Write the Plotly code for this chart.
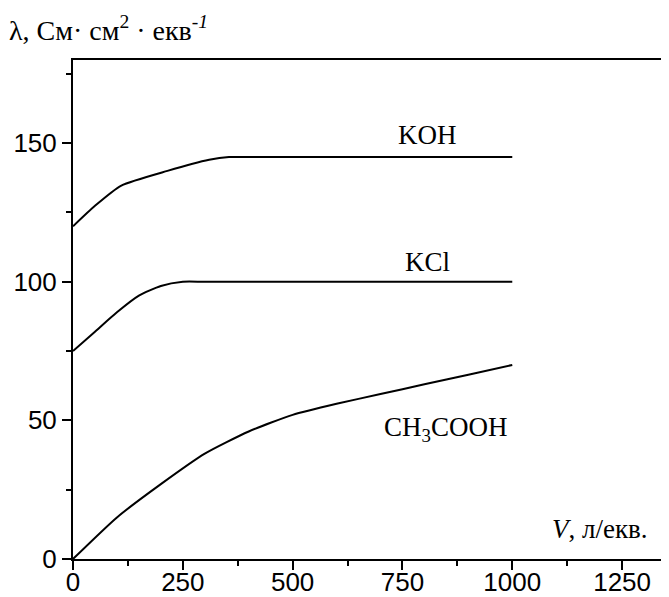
import plotly.graph_objects as go

# Data
koh_x = [0, 50, 110, 215, 310, 355, 400, 600, 800, 1000]
koh_y = [120, 127.4, 134.7, 140, 144, 145, 145, 145, 145, 145]

kcl_x = [0, 50, 100, 150, 200, 250, 300, 600, 800, 1000]
kcl_y = [75, 82, 89, 95, 98.5, 100, 100, 100, 100, 100]

ac_x = [0, 100, 200, 300, 400, 500, 600, 700, 800, 900, 1000]
ac_y = [0, 15, 27, 38, 46, 52, 56, 59.5, 63, 66.5, 70]

x_ticks = [0, 250, 500, 750, 1000, 1250]
y_ticks = [0, 50, 100, 150]

labels = [
    ("KOH", 807, 153),
    ("KCl", 806, 107),
    ("CH<sub>3</sub>COOH", 848, 47),
    ("<i>V</i>, л/екв.", 1200, 11),
]

serif = "Liberation Serif, Times New Roman, serif"
sans = "Liberation Sans, Arial, sans-serif"

fig = go.Figure()
for xs, ys in [(koh_x, koh_y), (kcl_x, kcl_y), (ac_x, ac_y)]:
    fig.add_trace(go.Scatter(x=xs, y=ys, mode="lines", line=dict(color="black", width=2, shape="spline", smoothing=0.6),
                             showlegend=False, hoverinfo="skip"))

for text, x, y in labels:
    fig.add_annotation(x=x, y=y, text=text, showarrow=False, font=dict(family=serif, size=27, color="black"),
                       xanchor="center", yanchor="middle")

fig.add_annotation(xref="paper", yref="paper", x=-0.11, y=1.063, xanchor="left", yanchor="middle",
                   text="λ, См· см<sup>2</sup> · екв<sup><i>-1</i></sup>", showarrow=False,
                   font=dict(family=serif, size=28, color="black"))

fig.update_layout(
    width=669, height=597,
    margin=dict(l=65, r=0, t=52, b=46),
    plot_bgcolor="white", paper_bgcolor="white",
)
fig.update_xaxes(range=[0, 1375], tickvals=x_ticks, ticks="outside", ticklen=9, tickwidth=2, tickcolor="black",
                 showline=True, linecolor="black", linewidth=2, mirror=True, showgrid=False, zeroline=False,
                 tickfont=dict(family=sans, size=26, color="black"), ticklabelstandoff=-10,
                 minor=dict(dtick=125, tick0=0, ticks="outside", ticklen=5, tickwidth=2, tickcolor="black"))
fig.update_yaxes(range=[0, 180], tickvals=y_ticks, ticks="outside", ticklen=9, tickwidth=2, tickcolor="black",
                 showline=True, linecolor="black", linewidth=2, showgrid=False, zeroline=False,
                 tickfont=dict(family=sans, size=26, color="black"),
                 minor=dict(dtick=25, tick0=0, ticks="outside", ticklen=5, tickwidth=2, tickcolor="black"))

fig.write_html("out.html")
